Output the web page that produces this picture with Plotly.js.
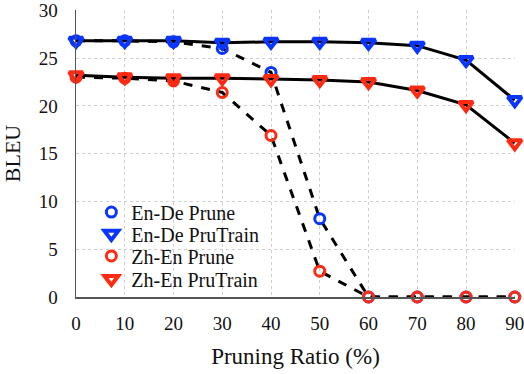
<!DOCTYPE html>
<html>
<head>
<meta charset="utf-8">
<script src="https://cdn.plot.ly/plotly-3.0.1.min.js"></script>
<style>
  html, body { margin: 0; padding: 0; background: #fff; }
  #chart { width: 524px; height: 374px; }
</style>
</head>
<body>
<div id="chart"></div>
<script>
// pruning ratio (%)
const ratios = [0, 10, 20, 30, 40, 50, 60, 70, 80, 90];

// BLEU scores
const enDePrune    = [26.8, 26.8, 26.7, 26.0, 23.5, 8.2, 0, 0, 0, 0];
const enDePruTrain = [26.8, 26.8, 26.8, 26.6, 26.7, 26.7, 26.6, 26.3, 24.8, 20.6];
const zhEnPrune    = [23.0, 22.9, 22.6, 21.4, 16.9, 2.7, 0, 0, 0, 0];
const zhEnPruTrain = [23.2, 23.0, 22.9, 22.9, 22.8, 22.7, 22.5, 21.6, 20.1, 16.1];

const yTicks = [0, 5, 10, 15, 20, 25, 30];

const blue = '#0a35ff';
const red = '#ff2a12';

// each series: black connecting line + coloured markers on top
const makeSeries = function(name, ys, color, symbol, dash, legendId) {
    const tri = symbol.indexOf('triangle') === 0;
    return [{
        x: ratios, y: ys,
        mode: 'lines',
        line: {color: '#000', width: 3, dash: dash},
        showlegend: false,
        hoverinfo: 'skip',
        cliponaxis: false
    }, {
        x: ratios, y: ys,
        name: name,
        legend: legendId,
        mode: 'markers',
        marker: {
            symbol: symbol,
            size: tri ? 12 : 10,
            color: color,
            line: {color: color, width: tri ? 4 : 3}
        },
        cliponaxis: false
    }];
};

const data = [].concat(
    makeSeries('En-De Prune', enDePrune, blue, 'circle-open', 'dash', 'legend'),
    makeSeries('Zh-En Prune', zhEnPrune, red, 'circle-open', 'dash', 'legend3'),
    makeSeries('En-De PruTrain', enDePruTrain, blue, 'triangle-down-open', 'solid', 'legend2'),
    makeSeries('Zh-En PruTrain', zhEnPruTrain, red, 'triangle-down-open', 'solid', 'legend4')
);

const serif = 'Liberation Serif, Times New Roman, serif';

// one single-entry legend per row, so rows can sit closer than plotly's spacing
const legendRow = function(y) {
    return {
        x: 0.035, y: y,
        xanchor: 'left', yanchor: 'middle',
        bgcolor: 'rgba(0,0,0,0)',
        font: {family: serif, size: 20, color: '#111'},
        itemwidth: 30
    };
};

const layout = {
    width: 524,
    height: 374,
    margin: {l: 76, r: 9, t: 10, b: 77},
    paper_bgcolor: '#fff',
    plot_bgcolor: '#fff',
    font: {family: serif, size: 20, color: '#111'},
    showlegend: true,
    legend: legendRow(0.296),
    legend2: legendRow(0.220),
    legend3: legendRow(0.143),
    legend4: legendRow(0.063),
    xaxis: {
        range: [0, 90.05],
        tickvals: ratios,
        showgrid: true,
        gridcolor: '#cfcfcf',
        griddash: 'dot',
        zeroline: false,
        showline: true,
        linecolor: '#555',
        linewidth: 1.5,
        ticks: '',
        ticklabelstandoff: 9,
        ticklabeloverflow: 'allow',
        tickfont: {family: serif, size: 19},
        title: {text: 'Pruning Ratio (%)', font: {family: serif, size: 23}, standoff: 14}
    },
    yaxis: {
        range: [0, 30.03],
        tickvals: yTicks,
        showgrid: true,
        gridcolor: '#cfcfcf',
        griddash: 'dot',
        zeroline: false,
        showline: true,
        linecolor: '#555',
        linewidth: 1.5,
        ticks: '',
        ticklabelstandoff: 13,
        ticklabeloverflow: 'allow',
        tickfont: {family: serif, size: 19},
        title: {text: 'BLEU', font: {family: serif, size: 22}, standoff: 18}
    }
};

Plotly.newPlot('chart', data, layout, {displayModeBar: false, staticPlot: true});
</script>
</body>
</html>
